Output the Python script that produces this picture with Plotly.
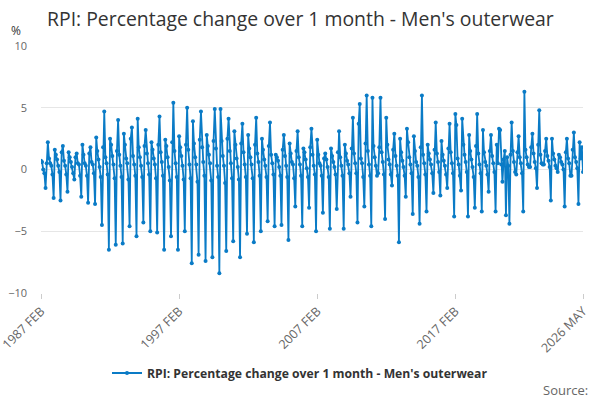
import pandas as pd
import plotly.graph_objects as go

start_month = "1987-02-01"

v1987 = [0.7, 0.6, 0.0, -0.3, -1.5, 0.5, 2.2, 0.9, 0.5, 0.3, -0.4]
v1988 = [-2.3, 1.6, 1.2, 0.8, 0.3, -0.2, -2.5, 1.4, 1.9, 0.7, 0.3, -0.4]
v1989 = [-1.8, 1.4, 1.0, 0.6, 0.2, -0.3, -0.8, 1.0, 1.3, 0.5, 0.4, -0.5]
v1990 = [-2.2, 2.0, 1.2, 0.5, 0.3, -0.5, -2.7, 1.3, 1.8, 0.6, 0.4, -0.3]
v1991 = [-2.8, 2.6, 1.5, 0.8, 0.2, -0.6, -4.5, 1.8, 4.7, 1.0, 0.5, -0.4]
v1992 = [-6.5, 2.5, 2.0, 1.1, 0.4, -0.7, -6.1, 1.5, 4.0, 1.2, 0.3, -0.6]
v1993 = [-6.0, 2.9, 2.0, 0.9, 0.5, -0.8, -4.6, 2.5, 3.4, 1.1, 0.4, -0.5]
v1994 = [-5.4, 4.1, 1.8, 1.0, 0.3, -0.6, -4.3, 1.9, 3.2, 1.3, 0.5, -0.4]
v1995 = [-5.0, 2.2, 1.6, 0.9, 0.4, -0.7, -5.1, 2.0, 4.3, 1.4, 0.6, -0.5]
v1996 = [-6.5, 2.4, 1.9, 1.0, 0.2, -0.9, -5.4, 2.2, 5.4, 1.5, 0.5, -0.6]
v1997 = [-6.5, 2.7, 1.8, 1.1, 0.3, -0.8, -5.0, 2.0, 5.0, 1.6, 0.4, -0.7]
v1998 = [-7.6, 3.9, 2.1, 1.0, 0.4, -1.0, -6.9, 2.4, 4.7, 1.8, 0.6, -0.5]
v1999 = [-7.4, 2.8, 1.9, 1.2, 0.5, -0.9, -7.1, 2.3, 4.9, 1.7, 0.3, -0.6]
v2000 = [-8.4, 4.9, 2.3, 1.1, 0.3, -1.1, -6.6, 2.5, 4.1, 1.5, 0.5, -0.7]
v2001 = [-5.8, 3.1, 2.0, 0.9, 0.2, -0.8, -7.1, 2.1, 3.7, 1.4, 0.4, -0.6]
v2002 = [-5.2, 2.8, 1.7, 1.0, 0.4, -0.7, -5.9, 2.0, 4.2, 1.3, 0.6, -0.5]
v2003 = [-5.0, 2.5, 1.6, 0.8, 0.3, -0.6, -4.2, 1.9, 3.8, 1.2, 0.5, -0.4]
v2004 = [-4.6, 1.2, 1.0, 0.7, 0.2, -0.5, -4.5, 1.6, 2.8, 1.1, 0.3, -0.6]
v2005 = [-5.7, 2.1, 1.3, 0.6, 0.4, -0.7, -3.0, 1.5, 3.1, 1.0, 0.4, -0.5]
v2006 = [-4.6, 1.7, 1.4, 0.8, 0.1, -0.6, -3.1, 1.8, 3.3, 1.2, 0.3, -0.4]
v2007 = [-5.0, 2.4, 1.2, 0.5, 0.3, -0.5, -3.5, 0.9, 1.3, 0.8, 0.2, -0.6]
v2008 = [-4.8, 1.7, 1.1, 0.6, 0.2, -0.4, -3.2, 1.4, 3.1, 1.0, 0.3, -0.5]
v2009 = [-4.8, 2.0, 1.3, 0.7, 0.4, -0.3, -2.2, 1.7, 4.2, 1.3, 0.5, -0.3]
v2010 = [-4.3, 3.7, 5.3, 0.9, 0.5, -0.6, -3.0, 2.1, 6.0, 1.5, 0.4, -0.5]
v2011 = [-4.6, 5.8, 1.9, 1.0, 0.3, -0.5, -0.3, 1.8, 5.8, 1.4, 0.6, -0.4]
v2012 = [-4.0, 4.2, 2.0, 0.8, 0.4, -0.4, -1.3, 1.6, 2.9, 1.1, 0.3, -0.5]
v2013 = [-5.9, 2.5, 1.4, 0.7, 0.2, -0.5, -2.2, 3.3, 2.2, 1.0, 0.4, -0.3]
v2014 = [-3.6, 2.7, 1.5, 0.6, 0.3, -0.6, -4.4, 1.8, 6.0, 1.2, 0.5, -0.4]
v2015 = [-3.4, 2.0, 1.3, 0.8, 0.4, -0.3, -1.9, 1.6, 3.8, 1.3, 0.6, -0.2]
v2016 = [-2.1, 2.3, 1.2, 0.7, 0.3, -0.4, -1.5, 1.7, 3.7, 1.4, 0.5, -0.3]
v2017 = [-3.8, 4.5, 3.6, 0.9, 0.4, -0.5, -1.7, 4.1, 2.0, 1.2, 0.6, -0.2]
v2018 = [-3.8, 2.8, 1.5, 0.8, 0.2, -0.6, -3.1, 1.9, 4.5, 1.3, 0.4, -0.3]
v2019 = [-3.4, 3.2, 1.4, 0.6, 0.3, -0.4, -1.8, 1.5, 2.8, 1.1, 0.5, -0.2]
v2020 = [-3.4, 2.0, 0.5, 3.3, 3.2, 0.4, -1.0, 0.8, 1.5, -3.7, 1.0, 0.3]
v2021 = [-4.4, 1.2, 3.8, 1.5, 0.6, -0.2, -0.4, 1.4, 2.7, 1.0, 0.5, -0.3]
v2022 = [-3.4, 6.3, 1.6, 1.0, 0.4, 0.2, 0.2, 1.8, 2.9, 1.3, 0.6, 0.1]
v2023 = [-1.5, 2.0, 4.8, 1.2, 0.5, 0.4, 0.4, 1.5, 2.5, 1.1, 0.7, 0.2]
v2024 = [-2.5, 2.5, 1.3, 0.8, 0.3, 0.1, -0.2, 1.2, 1.0, 0.6, 0.4, 0.0]
v2025 = [-3.0, 1.4, 2.5, 0.9, 0.5, -0.5, -0.5, 1.6, 3.0, 1.0, 0.6, 0.1]
v2026 = [-2.8, 2.2, 0.9, 1.8, -0.2]

values = (v1987 + v1988 + v1989 + v1990 + v1991 + v1992 + v1993 + v1994 + v1995
          + v1996 + v1997 + v1998 + v1999 + v2000 + v2001 + v2002 + v2003 + v2004
          + v2005 + v2006 + v2007 + v2008 + v2009 + v2010 + v2011 + v2012 + v2013
          + v2014 + v2015 + v2016 + v2017 + v2018 + v2019 + v2020 + v2021 + v2022
          + v2023 + v2024 + v2025 + v2026)

dates = pd.date_range(start_month, periods=len(values), freq="MS")

tick_dates = ["1987-02-01", "1997-02-01", "2007-02-01", "2017-02-01", "2026-05-01"]
tick_labels = ["1987 FEB", "1997 FEB", "2007 FEB", "2017 FEB", "2026 MAY"]
y_ticks = [-10, -5, 0, 5, 10]

series_name = "RPI: Percentage change over 1 month - Men's outerwear"
color = "#0a7bc6"
font_family = "Open Sans, Arial, sans-serif"

L, R, T, B = 41, 17, 46, 107
PW, PH = 600 - L - R, 400 - T - B

fig = go.Figure()
fig.add_trace(go.Scatter(
    x=dates, y=values, mode="lines+markers", name=series_name,
    line=dict(color=color, width=1.8),
    marker=dict(color=color, size=4),
))

fig.update_layout(
    width=600, height=400,
    paper_bgcolor="white", plot_bgcolor="white",
    margin=dict(l=L, r=R, t=T, b=B, autoexpand=False),
    font=dict(family=font_family, color="#333333"),
    title=dict(text=series_name, x=47/600, xanchor="left", xref="container",
               y=1 - 19/400, yanchor="middle", yref="container",
               pad=dict(l=0, r=0, t=0, b=0),
               font=dict(size=19.4, color="#333333")),
    showlegend=True,
    legend=dict(orientation="h", x=0.5, xanchor="center", xref="container",
                y=1 - 373/400, yanchor="middle", yref="container",
                font=dict(size=12.2, color="#333333", family=font_family, weight="bold")),
    xaxis=dict(type="date", range=[dates[0], dates[-1]], automargin=False,
               tickvals=tick_dates, ticktext=tick_labels, tickangle=-45,
               ticklabeloverflow="allow",
               showgrid=False, zeroline=False, showline=False,
               ticks="outside", ticklen=5, tickcolor="#cccccc",
               tickfont=dict(size=12.5, color="#666666")),
    yaxis=dict(range=[-10, 10], tickvals=y_ticks, showgrid=True, gridcolor="#e6e6e6",
               zeroline=False, showline=False, automargin=False,
               tickfont=dict(size=11, color="#666666"),
               ticks="", ticklabelstandoff=13),
    annotations=[
        dict(text="%", x=-32/PW, y=1 + 16/PH, xref="paper", yref="paper", showarrow=False,
             xanchor="left", yanchor="middle", font=dict(size=12, color="#333333")),
        dict(text="Source:", x=(590 - L)/PW, y=-(390 - 400 + B)/PH, xref="paper", yref="paper",
             xanchor="right", yanchor="middle", showarrow=False,
             font=dict(size=13, color="#666666")),
    ],
)

fig.write_html("out.html", config={"displayModeBar": False},
               post_script="document.body.style.margin='0';")
